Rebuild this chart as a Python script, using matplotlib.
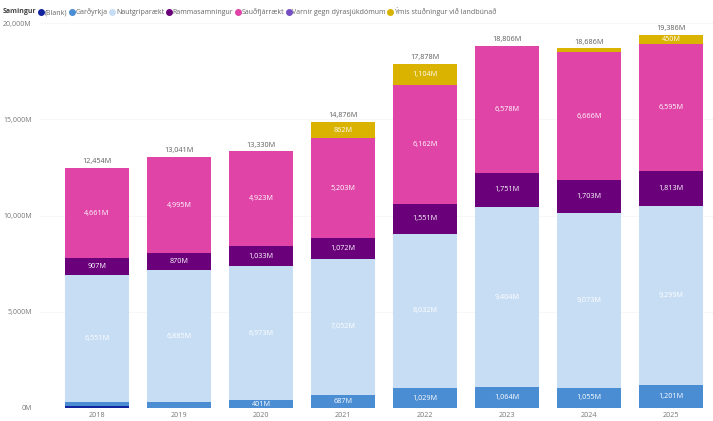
import numpy as np
import matplotlib.pyplot as plt
from matplotlib.lines import Line2D

plt.rcParams['font.family'] = ['Open Sans', 'DejaVu Sans']

years = ['2018', '2019', '2020', '2021', '2022', '2023', '2024', '2025']

# values in millions
blank = [80, 0, 0, 0, 0, 0, 0, 0]
gardyrkja = [255, 291, 401, 687, 1029, 1064, 1055, 1201]
nautgriparaekt = [6551, 6885, 6973, 7052, 8032, 9404, 9073, 9299]
rammasamningur = [907, 870, 1033, 1072, 1551, 1751, 1703, 1813]
saudfjarraekt = [4661, 4995, 4923, 5203, 6162, 6578, 6666, 6595]
varnir = [0, 0, 0, 0, 0, 9, 0, 28]
ymis = [0, 0, 0, 862, 1104, 0, 189, 450]

series = [
    ('(Blank)', blank, '#12239E', None),
    ('Garðyrkja', gardyrkja, '#4A8DD3', 'white'),
    ('Nautgriparækt', nautgriparaekt, '#C7DDF4', 'white'),
    ('Rammasamningur', rammasamningur, '#6B007B', 'white'),
    ('Sauðfjárrækt', saudfjarraekt, '#E044A7', 'white'),
    ('Varnir gegn dýrasjúkdómum', varnir, '#744EC2', None),
    ('Ýmis stuðningur við landbúnað', ymis, '#D9B300', 'white'),
]

fig = plt.figure(figsize=(7.13, 4.21), dpi=100)
ax = fig.add_axes([0.056, 0.031, 0.944, 0.914])

x = np.arange(len(years))
bottom = np.zeros(len(years))
for name, vals, color, lab_color in series:
    vals = np.array(vals, dtype=float)
    ax.bar(x, vals, width=0.78, bottom=bottom, color=color, linewidth=0, zorder=2)
    if lab_color:
        for i, v in enumerate(vals):
            if v >= 400:
                ax.text(x[i], bottom[i] + v / 2, f'{int(v):,}M', ha='center', va='center',
                        fontsize=5.2, color=lab_color, zorder=3)
    bottom += vals

totals = bottom
for i, t in enumerate(totals):
    ax.text(x[i], t + 150, f'{int(t):,}M', ha='center', va='bottom', fontsize=5.2, color='#605E5C')

ax.set_xlim(-0.695, 7.51)
ax.set_ylim(0, 20000)
ax.set_xticks(x)
ax.set_xticklabels(years)
ax.set_yticks([0, 5000, 10000, 15000, 20000])
ax.set_yticklabels(['0M', '5,000M', '10,000M', '15,000M', '20,000M'])
ax.tick_params(axis='x', length=0, labelsize=5.2, labelcolor='#777777', pad=3)
ax.tick_params(axis='y', length=0, labelsize=5.0, labelcolor='#777777', pad=6)
ax.grid(axis='y', color='#EEEEEE', linewidth=0.6, linestyle=(0, (1, 1)), zorder=0)
for s in ax.spines.values():
    s.set_visible(False)

fig.text(0.004, 0.972, 'Samingur', fontsize=5.0, fontweight='bold', color='#444444', va='center')
handles = [Line2D([], [], marker='o', linestyle='', markersize=4.0, color=c)
           for _, _, c, _ in series]
fig.legend(handles, [s[0] for s in series], loc='center left', bbox_to_anchor=(0.055, 0.972),
           ncol=7, frameon=False, fontsize=5.0, handlelength=0.5, handletextpad=0.3,
           columnspacing=0.4, borderaxespad=0, borderpad=0, labelcolor='#666666')

fig.savefig('out.png', dpi=100)
